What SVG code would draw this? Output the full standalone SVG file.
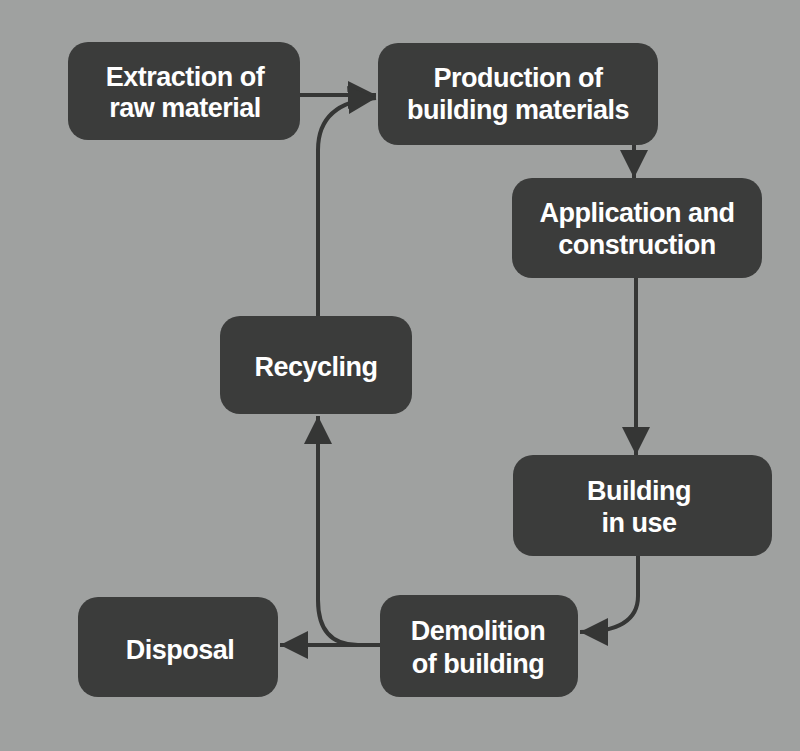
<svg xmlns="http://www.w3.org/2000/svg" width="800" height="751" viewBox="0 0 800 751">
<defs>
<style>
.node rect{fill:#3b3c3b}
.node text{fill:#ffffff;font-family:"Liberation Sans",Arial,sans-serif;font-weight:bold;font-size:27px;text-anchor:middle;letter-spacing:-0.5px}
.edges path{fill:none;stroke:#353635;stroke-width:4}
</style>
<marker id="ah" viewBox="0 0 10 10" refX="10" refY="5" markerWidth="7" markerHeight="8.5" markerUnits="strokeWidth" orient="auto">
<path d="M0,0 L10,5 L0,10 Z" fill="#353635"/>
</marker>
</defs>
<rect width="800" height="751" fill="#9fa1a0"/>
<g class="edges">
<path d="M300,95 L376,95" marker-end="url(#ah)"/>
<path d="M318,318 L318,150 Q318,102 376,98" marker-end="url(#ah)"/>
<path d="M634,145 L634,178" marker-end="url(#ah)"/>
<path d="M636,278 L636,455" marker-end="url(#ah)"/>
<path d="M638,556 L638,596 Q638,632 580,632" marker-end="url(#ah)"/>
<path d="M380,645 L280,645" marker-end="url(#ah)"/>
<path d="M380,645 L358,645 Q318,645 318,600 L318,416" marker-end="url(#ah)"/>
</g>
<g id="extraction" class="node">
<rect x="68" y="42" width="232" height="98" rx="20"/>
<text x="185" y="86">Extraction of</text>
<text x="185" y="117">raw material</text>
</g>
<g id="production" class="node">
<rect x="378" y="43" width="280" height="102" rx="20"/>
<text x="518" y="87">Production of</text>
<text x="518" y="119">building materials</text>
</g>
<g id="application" class="node">
<rect x="512" y="178" width="250" height="100" rx="20"/>
<text x="637" y="222">Application and</text>
<text x="637" y="254">construction</text>
</g>
<g id="recycling" class="node">
<rect x="220" y="316" width="192" height="98" rx="20"/>
<text x="316" y="376">Recycling</text>
</g>
<g id="inuse" class="node">
<rect x="513" y="455" width="259" height="101" rx="20"/>
<text x="639" y="500">Building</text>
<text x="639" y="532">in use</text>
</g>
<g id="disposal" class="node">
<rect x="78" y="597" width="200" height="100" rx="20"/>
<text x="180" y="659">Disposal</text>
</g>
<g id="demolition" class="node">
<rect x="380" y="595" width="198" height="102" rx="20"/>
<text x="478" y="640">Demolition</text>
<text x="478" y="673">of building</text>
</g>
</svg>
